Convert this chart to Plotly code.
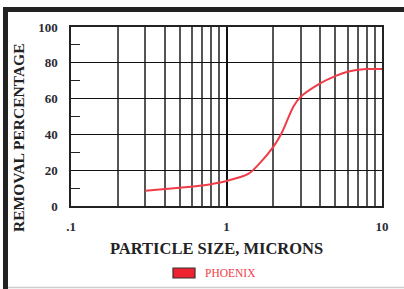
import plotly.graph_objects as go

# Data
particle_size = [0.3, 0.5, 0.7, 1.0, 1.38, 1.6, 2.0, 2.26, 2.69, 3.0, 4.0, 5.0, 6.0, 7.9, 10.0]
removal_pct = [8.5, 10.2, 11.5, 14.0, 17.9, 23.0, 33.0, 40.6, 55.5, 61.0, 68.5, 72.6, 75.0, 76.5, 76.5]
series_name = "PHOENIX"
x_major = [0.1, 1, 10]
x_major_text = [".1", "1", "10"]
x_minor = [0.2, 0.3, 0.4, 0.5, 0.6, 0.7, 0.8, 0.9, 2, 3, 4, 5, 6, 7, 8, 9]
y_ticks = [0, 20, 40, 60, 80, 100]

W, H = 404, 289
L, R, T, B = 71, 22, 27, 83
PW, PH = W - L - R, H - T - B

def px(p):
    return (p - L) / PW

def py(q):
    return (H - B - q) / PH

red = "#f03c48"
serif = "Liberation Serif"

fig = go.Figure()
fig.add_trace(go.Scatter(
    x=particle_size, y=removal_pct, mode="lines", name=series_name,
    line=dict(color=red, width=2, shape="spline", smoothing=0.8),
    showlegend=False, hoverinfo="x+y"))

fig.update_layout(
    width=W, height=H, margin=dict(l=L, r=R, t=T, b=B),
    paper_bgcolor="white", plot_bgcolor="white",
    xaxis=dict(
        type="log", range=[-1, 1], tickmode="array", tickvals=x_major,
        ticktext=x_major_text, showgrid=True, gridcolor="#111", gridwidth=1.6,
        showline=True, linecolor="#222", linewidth=1.5, mirror=True,
        ticks="", ticklabelstandoff=8,
        tickfont=dict(family=serif, size=13, weight="bold", color="#2b2b33"),
        minor=dict(tickmode="array", tickvals=x_minor, showgrid=True,
                   gridcolor="#555", gridwidth=1.5, ticks=""),
        zeroline=False, fixedrange=True),
    yaxis=dict(
        range=[0, 100], tickmode="array", tickvals=y_ticks,
        showgrid=True, gridcolor="#111", gridwidth=1.4,
        showline=True, linecolor="#222", linewidth=1.5, mirror=True,
        ticks="", ticklabelstandoff=9,
        tickfont=dict(family=serif, size=13, weight="bold", color="#2b2b33"),
        minor=dict(tickmode="linear", tick0=10, dtick=20, ticks="inside",
                   ticklen=9, tickwidth=1.3, tickcolor="#222", showgrid=False),
        zeroline=False, fixedrange=True),
    showlegend=False,
)

# Axis titles
fig.add_annotation(text="PARTICLE SIZE, MICRONS", xref="paper", yref="paper",
                   x=px(216), y=py(248), xanchor="center", yanchor="middle",
                   showarrow=False,
                   font=dict(family=serif, size=16.5, weight="bold", color="#222"))
fig.add_annotation(text="REMOVAL PERCENTAGE", xref="paper", yref="paper",
                   x=px(18), y=py(138), xanchor="center", yanchor="middle",
                   showarrow=False, textangle=-90,
                   font=dict(family=serif, size=15.5, weight="bold", color="#222"))

# Legend (box + label)
fig.add_shape(type="rect", xref="paper", yref="paper",
              x0=px(173), x1=px(195), y0=py(268), y1=py(278),
              fillcolor="#ee2230", line=dict(color="#333", width=1.2))
fig.add_annotation(text=series_name, xref="paper", yref="paper",
                   x=px(203), y=py(273), xanchor="left", yanchor="middle",
                   showarrow=False,
                   font=dict(family=serif, size=11.5, color=red))

# Frame
fig.add_shape(type="line", xref="paper", yref="paper",
              x0=px(3), x1=px(404), y0=py(9.5), y1=py(9.5),
              line=dict(color="#222", width=5))
fig.add_shape(type="line", xref="paper", yref="paper",
              x0=px(5.5), x1=px(5.5), y0=py(9.5), y1=py(289),
              line=dict(color="#222", width=5))
fig.add_shape(type="line", xref="paper", yref="paper",
              x0=px(8), x1=px(404), y0=py(287.5), y1=py(287.5),
              line=dict(color="#ccc", width=1.5))

fig.write_html("out.html", config={"displayModeBar": False},
               post_script="document.body.style.margin='0';document.body.style.overflow='hidden';")
